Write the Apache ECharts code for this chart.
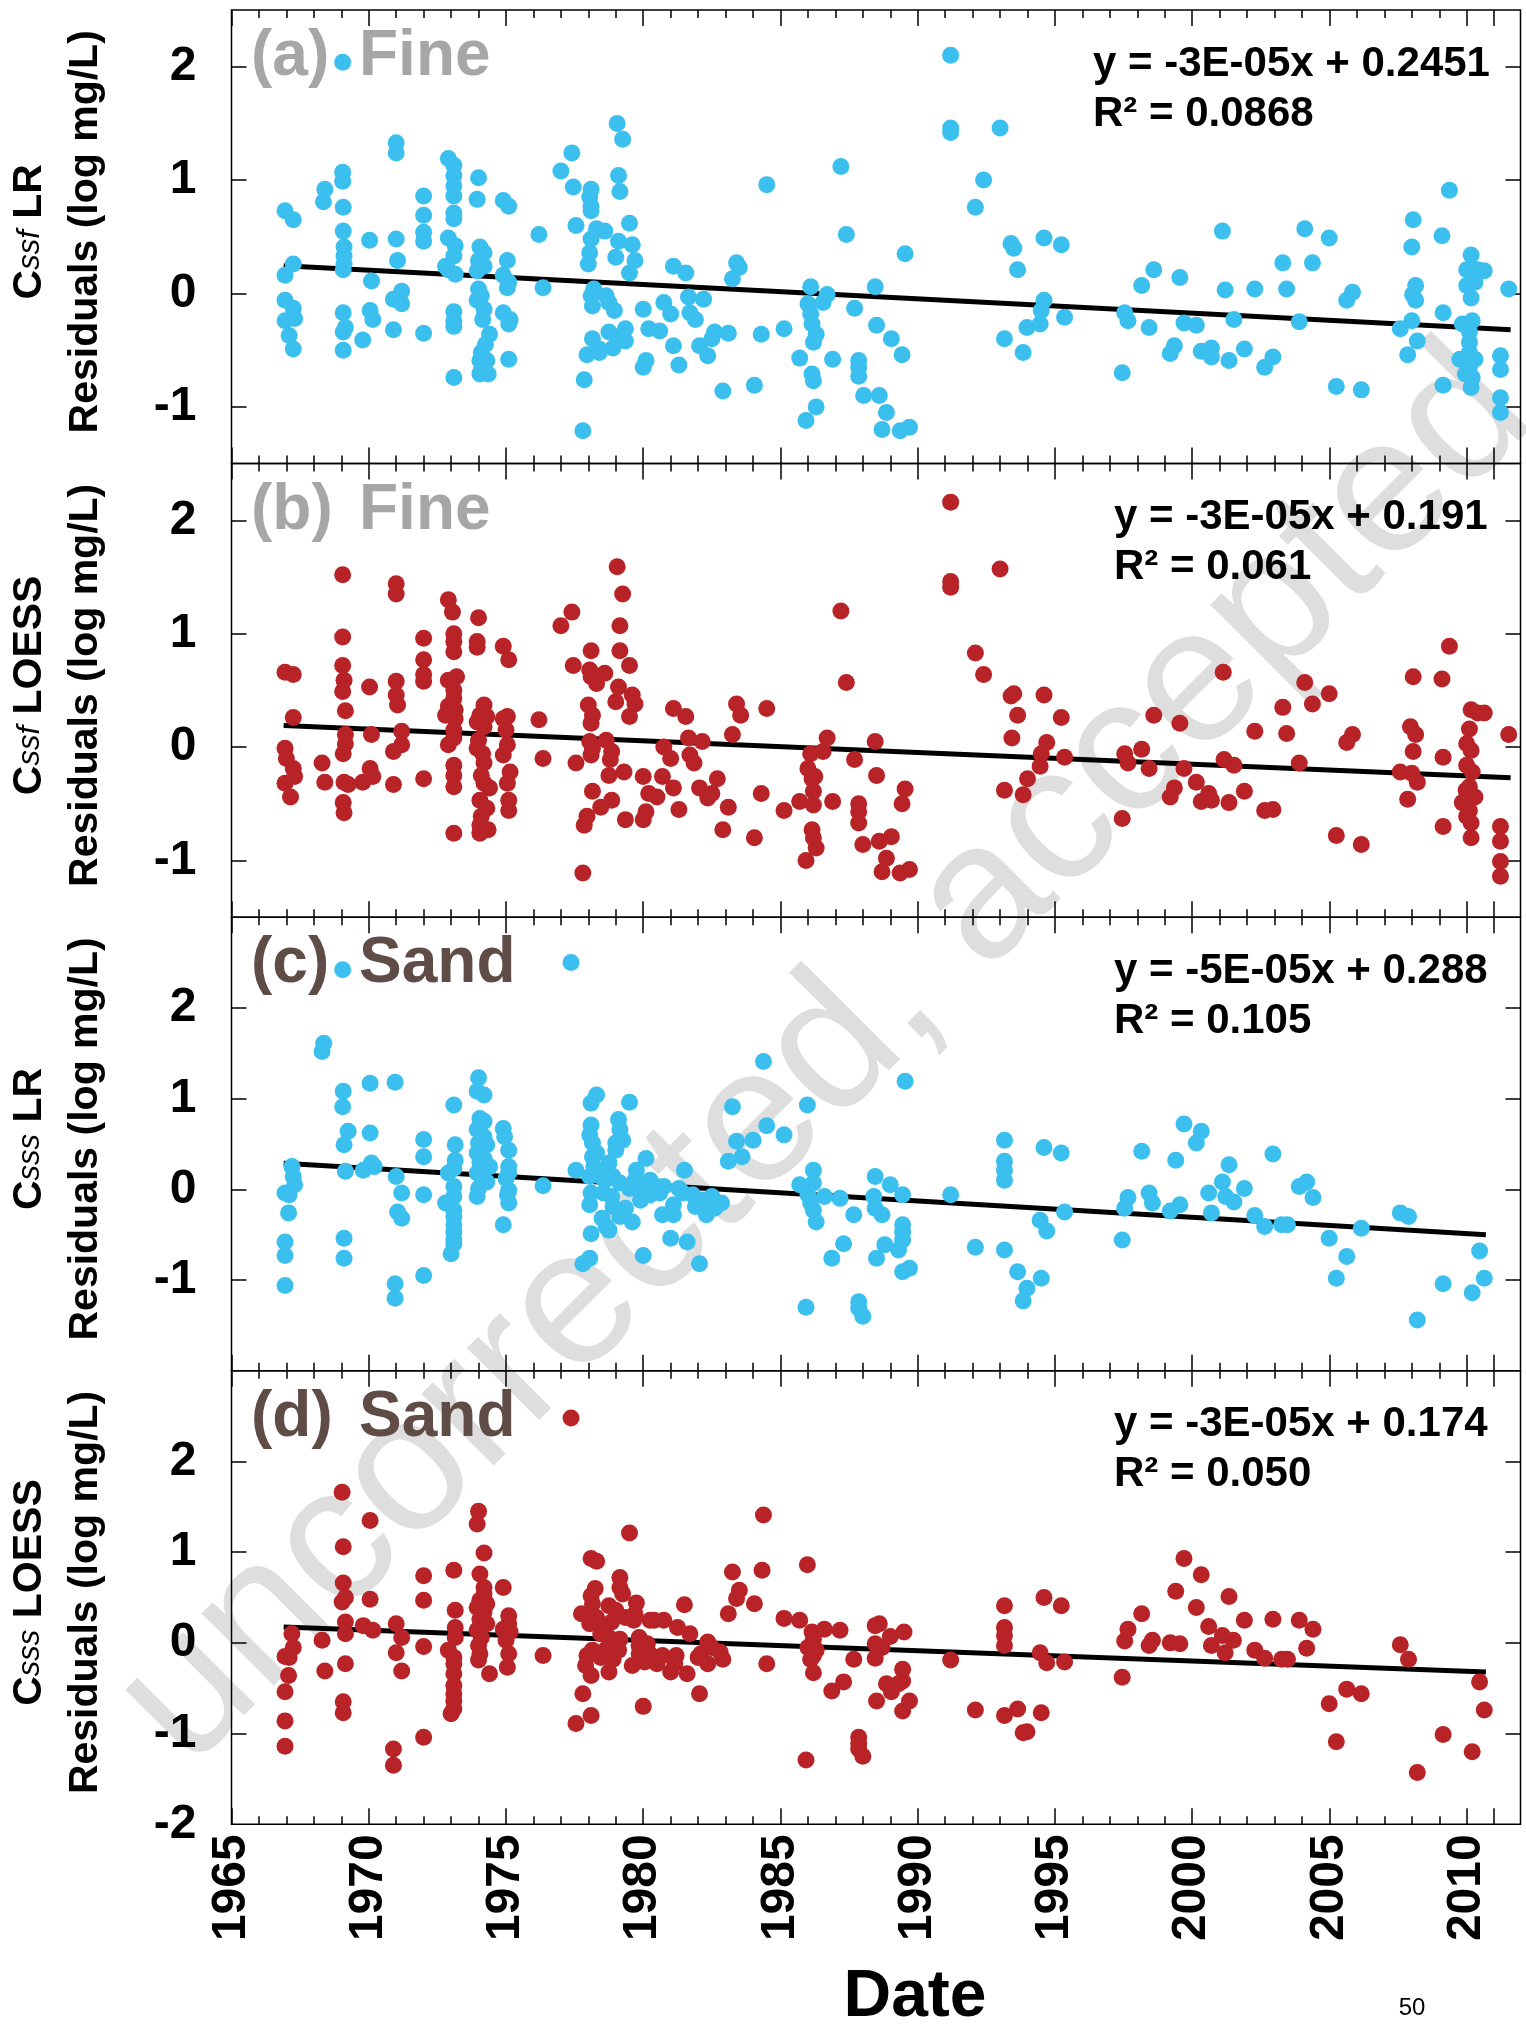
<!DOCTYPE html>
<html>
<head>
<meta charset="utf-8">
<title>Residual trends, fine and sand</title>
<script src="https://cdn.jsdelivr.net/npm/echarts@6/dist/echarts.min.js"></script>
<style>
  html, body { margin: 0; padding: 0; background: #fff; }
  #chart { width: 1526px; height: 2038px; }
</style>
</head>
<body>
<div id="chart"></div>
<script>
// ---- data: [decimal year, residual (log mg/L)] ----
const fineLR = [
  [1966.95,0.73],[1967.25,0.65],[1967.25,0.26],[1966.95,0.16],[1966.95,-0.06],[1967.25,-0.13],[1966.95,-0.24],[1967.3,-0.22],[1967.1,-0.37],[1967.25,-0.49],
  [1968.4,0.92],[1968.35,0.81],
  [1969.05,2.04],[1969.05,1.07],[1969.05,0.99],[1969.07,0.76],[1969.07,0.55],[1969.1,0.41],[1969.1,0.33],[1969.1,0.26],[1969.07,0.21],[1969.07,-0.17],[1969.15,-0.30],[1969.07,-0.34],[1969.07,-0.50],
  [1969.78,-0.41],[1970.03,0.47],[1970.1,0.11],[1970.05,-0.15],[1970.15,-0.23],
  [1971.0,0.48],[1971.05,0.29],[1971.0,1.33],[1971.0,1.24],[1970.9,-0.05],[1971.2,0.02],[1971.2,-0.09],[1970.9,-0.32],
  [1972.0,0.86],[1972.0,0.69],[1972.0,0.54],[1972.0,0.46],[1972.0,-0.35],
  [1972.9,1.19],[1973.1,1.13],[1973.1,1.04],[1973.1,0.95],[1973.1,0.86],[1973.1,0.71],[1973.1,0.66],[1972.9,0.49],[1973.15,0.42],[1973.1,0.33],[1972.8,0.24],[1973.15,0.17],[1972.9,0.21],[1973.1,-0.16],[1973.1,-0.24],[1973.1,-0.29],[1973.1,-0.74],
  [1974.0,1.02],[1973.95,0.83],[1974.05,0.41],[1974.2,0.36],[1974.0,0.29],[1974.2,0.24],[1973.95,0.20],[1974.0,0.04],[1974.1,-0.02],[1973.95,-0.06],[1974.2,-0.14],[1974.15,-0.23],[1974.4,-0.36],[1974.25,-0.45],[1974.1,-0.52],[1974.05,-0.59],[1974.3,-0.59],[1974.1,-0.67],[1974.05,-0.71],[1974.35,-0.71],
  [1974.9,0.82],[1975.1,0.77],[1975.05,0.29],[1974.9,0.16],[1975.1,0.10],[1975.05,0.05],[1974.9,-0.17],[1975.15,-0.23],[1975.1,-0.27],[1975.1,-0.58],
  [1976.2,0.52],[1976.35,0.05],
  [1977.0,1.08],[1977.4,1.24],[1977.45,0.94],[1977.55,0.60],
  [1978.1,0.92],[1978.05,0.85],[1978.1,0.77],[1978.1,0.73],[1978.3,0.57],[1978.6,0.55],[1978.1,0.48],[1978.05,0.36],[1978.0,0.26],[1978.2,0.04],[1978.1,-0.02],[1978.15,-0.11],[1978.65,-0.02],[1978.75,-0.08],[1978.95,-0.15],[1978.15,-0.40],[1978.4,-0.49],[1977.95,-0.54],[1978.4,-0.52],[1978.75,-0.34],[1978.9,-0.48],[1977.85,-0.76],[1977.8,-1.21],
  [1979.05,1.50],[1979.25,1.36],[1979.1,1.04],[1979.15,0.90],[1979.5,0.62],[1979.1,0.46],[1979.0,0.32],[1979.6,0.43],[1979.7,0.29],[1979.5,0.18],[1979.35,-0.31],[1979.35,-0.42],[1979.1,-0.39],
  [1980.0,-0.14],[1980.2,-0.31],[1980.6,-0.33],[1980.1,-0.59],[1980.0,-0.65],
  [1981.1,0.24],[1981.55,0.18],[1980.75,-0.08],[1981.0,-0.18],[1981.1,-0.46],[1981.3,-0.63],[1981.65,-0.03],[1981.7,-0.17],[1981.9,-0.23],
  [1982.2,-0.05],[1982.05,-0.46],[1982.35,-0.55],[1982.6,-0.34],[1982.5,-0.40],[1983.1,-0.35],[1982.9,-0.86],[1983.25,0.13],[1983.4,0.27],[1983.5,0.23],
  [1984.05,-0.81],[1984.3,-0.36],[1984.5,0.96],
  [1985.13,-0.31],[1985.7,-0.57],[1985.93,-1.12],[1986.0,-0.09],[1986.1,0.06],[1986.1,-0.18],[1986.15,-0.27],[1986.3,-0.36],[1986.2,-0.43],[1986.15,-0.71],[1986.2,-0.77],[1986.3,-1.0],[1986.55,-0.08],[1986.7,-0.01],[1986.9,-0.58],
  [1987.2,1.12],[1987.4,0.52],[1987.7,-0.13],[1987.85,-0.59],[1987.85,-0.65],[1987.85,-0.73],[1988.03,-0.90],[1988.45,0.06],[1988.5,-0.28],[1988.6,-0.90],[1988.86,-1.05],[1988.7,-1.2],[1989.04,-0.40],[1989.43,-0.54],[1989.54,0.35],[1989.36,-1.21],[1989.7,-1.18],
  [1991.2,2.10],[1991.2,1.46],[1991.2,1.42],[1993.0,1.46],[1992.4,1.0],[1992.1,0.76],
  [1993.16,-0.40],[1993.4,0.44],[1993.5,0.40],[1993.64,0.21],[1993.84,-0.52],[1993.98,-0.30],[1994.46,-0.27],[1994.5,-0.15],[1994.6,-0.06],[1994.6,0.49],[1995.23,0.43],[1995.35,-0.21],
  [1997.45,-0.70],[1997.54,-0.17],[1997.66,-0.24],[1998.16,0.07],[1998.43,-0.30],[1998.6,0.21],[1999.2,-0.53],[1999.35,-0.46],[1999.55,0.14],[1999.7,-0.26],
  [2000.15,-0.28],[2000.33,-0.51],[2000.7,-0.48],[2000.7,-0.56],[2001.1,0.55],[2001.2,0.03],[2001.34,-0.59],[2001.52,-0.23],[2001.9,-0.49],[2002.28,0.04],[2002.64,-0.65],[2002.94,-0.56],[2003.3,0.27],[2003.44,0.04],[2003.9,-0.25],[2004.1,0.57],[2004.38,0.27],[2004.99,0.49],
  [2005.25,-0.82],[2005.63,-0.06],[2005.84,0.01],[2006.16,-0.85],
  [2007.58,-0.31],[2007.85,-0.54],[2008.0,-0.24],[2008.2,-0.42],[2008.03,-0.01],[2008.14,0.07],[2008.14,-0.06],[2008.0,0.41],[2008.05,0.65],
  [2009.1,0.51],[2009.14,-0.17],[2009.14,-0.81],[2009.37,0.91],
  [2010.16,0.34],[2010.0,0.21],[2010.4,0.21],[2010.64,0.20],[2010.0,0.07],[2010.3,0.10],[2010.16,-0.04],[2009.84,-0.27],[2010.2,-0.24],[2010.1,-0.34],[2010.1,-0.43],[2010.1,-0.52],[2009.75,-0.58],[2010.3,-0.58],[2010.1,-0.65],[2009.95,-0.71],[2010.2,-0.74],[2010.16,-0.83],
  [2011.23,-0.55],[2011.23,-0.67],[2011.23,-0.92],[2011.23,-1.05],[2011.53,0.04]
];

const fineLOESS = [
  [1966.95,0.66],[1967.25,0.64],[1967.25,0.26],[1966.95,-0.01],[1967.0,-0.10],[1967.25,-0.19],[1967.3,-0.26],[1966.95,-0.32],[1967.15,-0.44],
  [1968.3,-0.14],[1968.4,-0.31],
  [1969.05,1.52],[1969.05,0.97],[1969.05,0.72],[1969.1,0.59],[1969.05,0.49],[1969.15,0.32],[1969.15,0.11],[1969.15,0.03],[1969.07,-0.06],[1969.1,-0.31],[1969.25,-0.33],[1969.07,-0.49],[1969.1,-0.58],
  [1970.03,0.53],[1970.1,0.11],[1970.05,-0.19],[1970.15,-0.26],[1969.78,-0.31],
  [1971.0,1.44],[1971.0,1.35],[1971.0,0.58],[1971.0,0.46],[1971.05,0.37],[1971.2,0.14],[1971.2,0.02],[1970.9,-0.04],[1970.9,-0.33],
  [1972.0,0.96],[1972.0,0.77],[1972.0,0.64],[1972.0,0.58],[1972.0,-0.28],
  [1972.9,1.30],[1973.05,1.19],[1973.1,1.00],[1973.1,0.93],[1973.1,0.84],[1973.2,0.62],[1972.9,0.59],[1973.1,0.50],[1973.1,0.43],[1972.9,0.36],[1973.15,0.33],[1972.8,0.28],[1973.15,0.25],[1973.1,0.15],[1973.1,0.08],[1972.9,0.02],[1973.1,-0.16],[1973.1,-0.25],[1973.1,-0.35],[1973.1,-0.76],
  [1974.0,1.14],[1973.95,0.93],[1973.95,0.88],[1974.2,0.37],[1974.05,0.28],[1974.3,0.27],[1973.95,0.22],[1974.2,0.18],[1974.0,0.06],[1973.95,-0.01],[1974.15,-0.06],[1974.2,-0.14],[1974.1,-0.25],[1974.2,-0.32],[1974.4,-0.36],[1974.05,-0.47],[1974.3,-0.54],[1974.1,-0.61],[1974.05,-0.69],[1974.35,-0.73],[1974.05,-0.76],
  [1974.9,0.89],[1975.1,0.77],[1975.05,0.27],[1974.9,0.25],[1975.0,0.15],[1975.05,0.02],[1974.9,-0.07],[1975.15,-0.22],[1975.05,-0.32],[1975.1,-0.47],[1975.1,-0.56],
  [1976.2,0.24],[1976.35,-0.10],
  [1977.0,1.07],[1977.4,1.19],[1977.45,0.72],[1977.55,-0.14],
  [1978.1,0.85],[1978.05,0.68],[1978.1,0.62],[1978.3,0.56],[1978.6,0.65],[1978.0,0.37],[1978.15,0.28],[1978.1,0.21],[1978.05,0.05],[1978.15,-0.01],[1978.1,-0.07],[1978.65,0.06],[1978.85,-0.04],[1978.8,-0.11],[1978.75,-0.25],[1979.3,-0.22],[1978.15,-0.39],[1978.45,-0.53],[1978.85,-0.47],[1977.95,-0.61],[1977.85,-0.69],[1977.8,-1.11],
  [1979.05,1.59],[1979.25,1.35],[1979.15,1.07],[1979.15,0.85],[1979.5,0.72],[1979.1,0.53],[1979.0,0.40],[1979.6,0.46],[1979.7,0.38],[1979.5,0.27],[1979.35,-0.64],
  [1980.0,-0.26],[1980.2,-0.41],[1980.5,-0.44],[1980.1,-0.57],[1980.0,-0.64],[1980.7,-0.26],
  [1981.1,0.34],[1981.55,0.27],[1980.75,0.0],[1981.0,-0.10],[1981.1,-0.36],[1981.3,-0.55],[1981.65,0.08],[1981.7,-0.07],[1981.85,-0.14],
  [1982.15,0.05],[1982.05,-0.36],[1982.35,-0.45],[1982.7,-0.28],[1982.5,-0.41],[1983.1,-0.53],[1982.9,-0.73],[1983.25,0.11],[1983.4,0.38],[1983.55,0.28],
  [1984.05,-0.80],[1984.3,-0.41],[1984.5,0.34],
  [1985.13,-0.56],[1985.7,-0.48],[1985.93,-1.0],[1986.0,-0.19],[1986.1,-0.06],[1986.15,-0.28],[1986.25,-0.26],[1986.2,-0.39],[1986.2,-0.51],[1986.15,-0.73],[1986.2,-0.80],[1986.3,-0.89],[1986.55,-0.04],[1986.7,0.08],[1986.9,-0.48],
  [1987.2,1.20],[1987.4,0.57],[1987.7,-0.11],[1987.85,-0.50],[1987.85,-0.57],[1987.85,-0.67],[1988.0,-0.86],[1988.45,0.05],[1988.5,-0.25],[1988.6,-0.83],[1988.7,-1.10],[1988.86,-0.98],[1989.04,-0.79],[1989.43,-0.50],[1989.54,-0.37],[1989.36,-1.11],[1989.7,-1.08],
  [1991.2,2.16],[1991.2,1.46],[1991.2,1.41],[1993.0,1.57],[1992.1,0.83],[1992.4,0.64],
  [1993.16,-0.38],[1993.4,0.45],[1993.5,0.47],[1993.64,0.28],[1993.43,0.08],[1993.84,-0.42],[1994.0,-0.28],[1994.46,-0.17],[1994.5,-0.06],[1994.7,0.04],[1994.6,0.46],[1995.23,0.26],[1995.35,-0.09],
  [1997.45,-0.63],[1997.54,-0.06],[1997.66,-0.14],[1998.16,-0.02],[1998.43,-0.19],[1998.6,0.28],[1999.2,-0.44],[1999.35,-0.36],[1999.55,0.21],[1999.7,-0.19],
  [2000.15,-0.31],[2000.33,-0.48],[2000.6,-0.41],[2000.7,-0.47],[2001.13,0.66],[2001.16,-0.11],[2001.34,-0.49],[2001.52,-0.16],[2001.9,-0.39],[2002.28,0.14],[2002.64,-0.56],[2002.94,-0.55],[2003.3,0.35],[2003.44,0.12],[2003.9,-0.14],[2004.1,0.57],[2004.38,0.38],[2004.99,0.47],
  [2005.25,-0.78],[2005.63,0.04],[2005.84,0.11],[2006.16,-0.86],
  [2007.58,-0.22],[2007.85,-0.46],[2008.0,-0.23],[2008.2,-0.31],[2008.05,0.62],[2007.95,0.18],[2008.14,0.11],[2008.05,-0.04],
  [2009.1,0.60],[2009.14,-0.09],[2009.14,-0.70],[2009.37,0.89],
  [2010.16,0.33],[2010.4,0.30],[2010.64,0.30],[2010.1,0.16],[2010.0,0.03],[2010.16,-0.03],[2010.0,-0.16],[2010.2,-0.22],[2010.1,-0.35],[2009.98,-0.38],[2010.3,-0.44],[2009.84,-0.49],[2010.1,-0.56],[2010.0,-0.61],[2010.16,-0.67],[2010.16,-0.80],
  [2011.23,-0.70],[2011.23,-0.83],[2011.23,-1.01],[2011.23,-1.14],[2011.53,0.11]
];

const sandLR = [
  [1966.95,-0.04],[1967.2,0.25],[1967.25,0.14],[1967.3,0.05],[1967.1,-0.06],[1967.08,-0.26],[1966.95,-0.58],[1966.95,-0.73],[1966.95,-1.06],
  [1968.36,1.61],[1968.3,1.52],
  [1969.05,2.42],[1969.07,1.08],[1969.05,0.91],[1969.25,0.64],[1969.1,0.49],[1969.15,0.20],[1969.1,-0.54],[1969.1,-0.76],
  [1969.8,0.21],[1970.05,1.17],[1970.05,0.62],[1970.1,0.29],[1970.2,0.25],
  [1970.96,1.18],[1971.0,0.14],[1971.2,-0.04],[1971.05,-0.25],[1971.2,-0.32],[1970.96,-1.04],[1970.96,-1.20],
  [1972.0,0.55],[1972.0,0.36],[1972.0,-0.06],[1972.0,-0.95],
  [1973.1,0.93],[1973.15,0.49],[1973.15,0.32],[1973.1,0.23],[1972.9,0.18],[1973.1,0.03],[1973.1,-0.08],[1972.8,-0.15],[1973.1,-0.23],[1973.1,-0.30],[1973.1,-0.39],[1973.1,-0.47],[1973.1,-0.56],[1973.1,-0.60],[1973.0,-0.71],
  [1974.0,1.23],[1973.95,1.08],[1974.2,1.04],[1974.05,0.78],[1974.2,0.75],[1973.95,0.66],[1974.2,0.58],[1974.0,0.51],[1974.3,0.49],[1973.95,0.40],[1974.2,0.34],[1974.05,0.29],[1974.4,0.25],[1973.95,0.18],[1974.1,0.14],[1974.3,0.08],[1974.0,0.01],[1973.95,-0.08],
  [1974.9,0.67],[1974.95,0.58],[1975.1,0.43],[1975.1,0.25],[1975.1,0.18],[1975.0,0.12],[1975.1,-0.01],[1975.05,-0.06],[1975.1,-0.15],[1974.9,-0.39],
  [1976.35,0.04],[1977.37,2.50],[1977.55,0.21],
  [1978.1,0.95],[1978.3,1.04],[1979.5,0.96],[1978.1,0.71],[1978.05,0.60],[1978.15,0.51],[1979.1,0.77],[1979.15,0.66],[1979.25,0.54],[1979.0,0.51],[1979.0,0.43],[1978.15,0.36],[1978.3,0.40],[1978.2,0.25],[1978.45,0.14],[1978.05,0.14],[1978.75,0.29],
  [1980.1,0.34],[1979.75,0.21],[1981.5,0.21],[1978.6,0.10],[1978.9,0.14],[1979.15,0.07],[1979.5,0.01],[1979.7,0.10],[1980.25,0.10],[1980.05,0.01],[1980.5,0.03],[1980.75,0.03],
  [1978.1,-0.04],[1978.55,-0.04],[1978.85,-0.08],[1979.9,-0.12],[1980.25,-0.06],[1980.6,-0.04],[1978.05,-0.17],[1978.9,-0.19],[1979.35,-0.21],
  [1981.3,0.01],[1981.45,-0.04],[1981.8,-0.06],[1982.15,-0.12],[1982.5,-0.08],[1982.85,-0.15],[1981.1,-0.17],[1981.9,-0.19],[1982.3,-0.28],[1982.6,-0.21],[1980.7,-0.28],[1981.1,-0.28],
  [1978.5,-0.32],[1979.15,-0.30],[1979.6,-0.36],[1978.65,-0.41],[1978.75,-0.45],[1978.1,-0.49],[1981.0,-0.54],[1981.6,-0.58],[1980.0,-0.73],[1978.05,-0.76],[1977.8,-0.82],[1982.05,-0.82],
  [1983.25,0.91],[1983.4,0.53],[1983.6,0.36],[1984.0,0.54],[1983.1,0.31],
  [1984.38,1.41],[1984.5,0.70],[1985.13,0.60],[1985.98,0.93],[1989.54,1.19],
  [1985.7,0.05],[1986.2,0.21],[1986.2,0.07],[1986.0,-0.06],[1986.1,-0.15],[1986.2,-0.23],[1986.3,-0.36],[1986.6,-0.08],[1987.17,-0.10],[1987.67,-0.28],[1987.3,-0.60],[1986.87,-0.76],
  [1985.93,-1.30],[1987.85,-1.24],[1987.85,-1.31],[1988.0,-1.40],
  [1988.45,0.14],[1988.4,-0.08],[1988.45,-0.21],[1988.7,-0.28],[1989.0,0.05],[1989.45,-0.06],[1989.45,-0.39],[1989.45,-0.47],[1989.45,-0.56],[1989.3,-0.67],[1988.8,-0.61],[1988.5,-0.76],[1989.45,-0.91],[1989.7,-0.87],
  [1991.2,-0.06],[1992.1,-0.64],
  [1993.16,0.54],[1993.16,0.31],[1993.16,0.21],[1993.16,0.10],[1993.16,-0.67],[1993.64,-0.91],[1993.98,-1.09],[1993.84,-1.23],[1994.5,-0.98],[1994.46,-0.34],[1994.7,-0.46],[1994.6,0.46],[1995.23,0.40],[1995.35,-0.25],
  [1997.45,-0.56],[1997.54,-0.21],[1997.66,-0.09],[1998.16,0.42],[1998.43,-0.04],[1998.55,-0.15],[1999.2,-0.24],[1999.4,0.32],[1999.55,-0.17],[1999.7,0.72],
  [2000.15,0.51],[2000.33,0.64],[2000.6,-0.04],[2000.7,-0.26],[2001.1,0.08],[2001.22,-0.08],[2001.34,0.27],[2001.52,-0.14],[2001.9,0.01],[2002.28,-0.29],[2002.64,-0.41],[2002.94,0.39],[2003.26,-0.39],[2003.47,-0.39],[2003.9,0.03],[2004.17,0.08],[2004.4,-0.09],
  [2004.99,-0.54],[2005.25,-0.98],[2005.63,-0.74],[2006.16,-0.43],
  [2007.58,-0.26],[2007.88,-0.30],[2008.2,-1.44],[2009.14,-1.04],[2010.2,-1.14],[2010.64,-0.98],[2010.47,-0.68]
];

const sandLOESS = [
  [1967.2,0.10],[1967.25,-0.05],[1967.1,-0.16],[1966.95,-0.15],[1967.08,-0.36],[1966.95,-0.54],[1966.95,-0.86],[1966.95,-1.14],
  [1968.3,0.03],[1968.4,-0.31],
  [1969.03,1.66],[1969.07,1.06],[1969.07,0.66],[1969.15,0.50],[1969.03,0.45],[1969.15,0.23],[1969.15,0.10],[1969.15,-0.23],[1969.07,-0.65],[1969.07,-0.77],
  [1970.05,1.35],[1970.05,0.48],[1969.8,0.19],[1970.15,0.14],
  [1971.0,0.21],[1971.2,0.06],[1971.0,-0.11],[1971.2,-0.31],[1970.9,-1.17],[1970.9,-1.35],
  [1972.0,0.74],[1972.0,0.47],[1972.0,-0.04],[1972.0,-1.04],
  [1973.1,0.80],[1973.15,0.36],[1973.15,0.17],[1973.15,0.06],[1972.9,-0.08],[1973.1,-0.16],[1973.1,-0.23],[1973.1,-0.34],[1973.1,-0.47],[1973.1,-0.56],[1973.1,-0.64],[1973.1,-0.73],[1973.0,-0.78],
  [1974.0,1.45],[1973.95,1.31],[1974.2,0.99],[1974.05,0.76],[1974.2,0.61],[1974.2,0.54],[1974.05,0.47],[1974.3,0.43],[1973.95,0.39],[1974.2,0.34],[1974.05,0.26],[1974.3,0.21],[1973.95,0.14],[1974.1,0.06],[1974.0,-0.03],[1974.05,-0.12],[1974.0,-0.19],[1974.4,-0.34],
  [1974.9,0.61],[1975.1,0.30],[1975.1,0.21],[1974.9,0.15],[1975.15,0.12],[1975.0,0.03],[1975.1,-0.12],[1975.05,-0.27],
  [1976.35,-0.14],[1977.37,2.48],
  [1979.5,1.21],[1978.1,0.93],[1978.3,0.90],[1979.15,0.72],[1979.15,0.61],[1978.25,0.60],[1978.1,0.52],[1978.15,0.43],[1978.05,0.32],[1978.75,0.41],[1979.0,0.36],[1979.25,0.54],[1979.75,0.44],[1981.5,0.42],[1977.75,0.32],
  [1978.45,0.21],[1978.3,0.28],[1978.05,0.21],[1978.85,0.23],[1979.35,0.28],[1979.65,0.25],[1980.25,0.25],[1980.4,0.25],[1980.75,0.25],[1979.7,0.32],
  [1978.45,0.10],[1978.75,0.06],[1979.15,0.04],[1979.85,0.06],[1981.25,0.17],[1981.7,0.10],[1980.15,-0.01],
  [1978.15,-0.08],[1978.65,-0.07],[1979.1,-0.08],[1979.85,-0.03],[1980.1,-0.08],[1982.35,0.01],[1982.5,-0.05],[1982.8,-0.10],[1982.1,-0.12],
  [1977.95,-0.14],[1978.45,-0.16],[1978.9,-0.18],[1979.85,-0.12],[1980.3,-0.14],[1980.7,-0.14],[1981.2,-0.14],[1982.0,-0.16],[1982.9,-0.18],
  [1977.9,-0.25],[1979.6,-0.25],[1980.05,-0.21],[1980.5,-0.23],[1981.15,-0.23],[1982.35,-0.23],[1978.1,-0.36],[1978.75,-0.32],[1981.0,-0.32],[1981.6,-0.34],
  [1980.0,-0.70],[1982.05,-0.56],[1977.8,-0.56],[1978.1,-0.80],[1977.55,-0.89],
  [1983.25,0.78],[1983.5,0.58],[1983.4,0.49],[1984.05,0.43],[1983.1,0.32],
  [1984.38,1.41],[1984.33,0.80],[1985.13,0.27],[1985.7,0.25],[1985.98,0.86],[1984.5,-0.23],
  [1986.15,0.12],[1986.2,0.04],[1986.6,0.15],[1987.17,0.14],[1986.0,-0.05],[1986.2,-0.14],[1986.1,-0.18],[1986.3,-0.08],[1986.2,-0.33],[1986.87,-0.53],[1987.3,-0.43],[1987.67,-0.18],
  [1985.93,-1.29],[1987.85,-1.04],[1987.85,-1.11],[1987.85,-1.17],[1988.0,-1.25],
  [1988.45,0.19],[1988.6,0.21],[1988.45,-0.01],[1988.7,-0.05],[1988.45,-0.17],[1989.0,0.07],[1989.5,0.12],[1989.45,-0.29],[1989.45,-0.42],[1989.3,-0.45],[1988.86,-0.45],[1989.04,-0.54],[1988.5,-0.64],[1989.45,-0.75],[1989.7,-0.64],
  [1991.2,-0.19],[1992.1,-0.74],
  [1993.16,0.41],[1993.16,0.17],[1993.16,0.08],[1993.16,-0.03],[1993.16,-0.80],[1993.64,-0.73],[1993.84,-0.99],[1993.98,-0.98],[1994.5,-0.77],[1994.46,-0.11],[1994.7,-0.22],[1994.6,0.50],[1995.23,0.41],[1995.35,-0.21],
  [1997.45,-0.38],[1997.54,0.02],[1997.66,0.15],[1998.16,0.32],[1998.43,-0.03],[1998.55,0.03],[1999.2,0.0],[1999.55,-0.01],[1999.4,0.57],[1999.7,0.93],
  [2000.15,0.39],[2000.33,0.75],[2000.6,0.18],[2000.7,-0.03],[2001.1,0.08],[2001.2,-0.11],[2001.5,0.03],[2001.34,0.51],[2001.9,0.25],[2002.28,-0.08],[2002.64,-0.17],[2002.94,0.26],[2003.26,-0.18],[2003.47,-0.18],[2003.9,0.25],[2004.17,-0.06],[2004.4,0.15],
  [2004.99,-0.67],[2005.25,-1.09],[2005.63,-0.51],[2006.16,-0.56],
  [2007.58,-0.02],[2007.88,-0.18],[2008.2,-1.43],[2009.14,-1.01],[2010.2,-1.20],[2010.47,-0.43],[2010.64,-0.74]
];

// fitted trend lines: [start, end]
const trendFineLR = [[1966.9, 0.2451], [2011.6, -0.32]];
const trendFineLOESS = [[1966.9, 0.191], [2011.6, -0.27]];
const trendSandLR = [[1966.9, 0.288], [2010.7, -0.50]];
const trendSandLOESS = [[1966.9, 0.174], [2010.7, -0.32]];

// fit annotations
const eqFineLR = ['y = -3E-05x + 0.2451', 'R\u00b2 = 0.0868'];
const eqFineLOESS = ['y = -3E-05x + 0.191', 'R\u00b2 = 0.061'];
const eqSandLR = ['y = -5E-05x + 0.288', 'R\u00b2 = 0.105'];
const eqSandLOESS = ['y = -3E-05x + 0.174', 'R\u00b2 = 0.050'];

// axis ticks and labels
const yearLabels = [1965, 1970, 1975, 1980, 1985, 1990, 1995, 2000, 2005, 2010];
const majorTickYears = [1965, 1970, 1975, 1980, 1985, 1990, 1995, 2000, 2005, 2010, 2011];
const minorTickYears = [1965,1966,1967,1968,1969,1970,1971,1972,1973,1974,1975,1976,1977,1978,1979,1980,1981,1982,1983,1984,1985,1986,1987,1988,1989,1990,1991,1992,1993,1994,1995,1996,1997,1998,1999,2000,2001,2002,2003,2004,2005,2006,2007,2008,2009,2010,2011];
const yTicks = [-1, 0, 1, 2];
const yLabelsFine = [-1, 0, 1, 2];
const yLabelsSandLR = [-1, 0, 1, 2];
const yLabelsSandLOESS = [-2, -1, 0, 1, 2];

// ---- layout ----
const FONT = '"Liberation Sans", Arial, Helvetica, sans-serif';
const BLUE = '#3bbfef';
const RED = '#b82327';
const GREY = '#a6a6a6';
const BROWN = '#5f4c46';

const plotLeft = 231.5, plotRight = 1520.5;
const panelTop0 = 10, panelH = 453.575;

const panels = [
  { data: fineLR, trend: trendFineLR, eq: eqFineLR, eqX: 1093, color: BLUE, ymin: -1.5, ymax: 2.5,
    labels: yLabelsFine, tagA: '(a)', tagB: 'Fine', tagColor: GREY, sub: 'ssf', method: ' LR' },
  { data: fineLOESS, trend: trendFineLOESS, eq: eqFineLOESS, eqX: 1114, color: RED, ymin: -1.5, ymax: 2.5,
    labels: yLabelsFine, tagA: '(b)', tagB: 'Fine', tagColor: GREY, sub: 'ssf', method: ' LOESS' },
  { data: sandLR, trend: trendSandLR, eq: eqSandLR, eqX: 1114, color: BLUE, ymin: -2, ymax: 3,
    labels: yLabelsSandLR, tagA: '(c)', tagB: 'Sand', tagColor: BROWN, sub: 'sss', method: ' LR' },
  { data: sandLOESS, trend: trendSandLOESS, eq: eqSandLOESS, eqX: 1114, color: RED, ymin: -2, ymax: 3,
    labels: yLabelsSandLOESS, tagA: '(d)', tagB: 'Sand', tagColor: BROWN, sub: 'sss', method: ' LOESS' }
];

const grid = [], xAxis = [], yAxis = [], series = [], graphic = [];

// diagonal watermark behind the data
graphic.push({
  type: 'text', x: 826, y: 1058, rotation: Math.PI / 4, z: 1, silent: true,
  style: { text: 'uncorrected, accepted', font: '193px ' + FONT, fill: '#dedede', align: 'center', verticalAlign: 'middle' }
});

const tickStyle = { color: '#000', width: 1.5 };

panels.forEach((p, i) => {
  const top = panelTop0 + panelH * i;
  grid.push({ left: plotLeft, width: plotRight - plotLeft, top: top, height: panelH,
    show: true, borderColor: '#000', borderWidth: 1.5, backgroundColor: 'transparent', z: 2 });

  const xBase = { type: 'value', gridIndex: i, min: 1965, max: 2011.96, z: 3,
    axisLine: { show: false, onZero: false }, splitLine: { show: false } };
  const isLast = i === panels.length - 1;
  // bottom edge: long ticks every 5 years (year labels on the last panel), short yearly ticks
  xAxis.push(Object.assign({}, xBase, { position: 'bottom',
    axisTick: { inside: true, length: 16, customValues: majorTickYears, lineStyle: tickStyle },
    axisLabel: { show: isLast, customValues: yearLabels, rotate: 90, margin: 10,
      formatter: v => String(v),
      fontFamily: FONT, fontSize: 48, fontWeight: 'bold', color: '#000' } }));
  xAxis.push(Object.assign({}, xBase, { position: 'bottom',
    axisTick: { inside: true, length: 8, customValues: minorTickYears, lineStyle: tickStyle },
    axisLabel: { show: false } }));
  // top edge
  xAxis.push(Object.assign({}, xBase, { position: 'top',
    axisTick: { inside: true, length: 16, customValues: majorTickYears, lineStyle: tickStyle },
    axisLabel: { show: false } }));
  xAxis.push(Object.assign({}, xBase, { position: 'top',
    axisTick: { inside: true, length: 8, customValues: minorTickYears, lineStyle: tickStyle },
    axisLabel: { show: false } }));

  const yBase = { type: 'value', gridIndex: i, min: p.ymin, max: p.ymax, z: 3,
    axisLine: { show: false, onZero: false }, splitLine: { show: false } };
  yAxis.push(Object.assign({}, yBase, { position: 'left',
    axisTick: { inside: true, length: 15, customValues: yTicks, lineStyle: tickStyle },
    axisLabel: { customValues: p.labels, margin: 35, padding: [0, 0, 27, 0],
      fontFamily: FONT, fontSize: 48, fontWeight: 'bold', color: '#000' } }));
  yAxis.push(Object.assign({}, yBase, { position: 'right',
    axisTick: { inside: true, length: 15, customValues: yTicks, lineStyle: tickStyle },
    axisLabel: { show: false } }));

  series.push({ type: 'line', xAxisIndex: i * 4, yAxisIndex: i * 2, data: p.trend,
    symbol: 'none', lineStyle: { color: '#000', width: 5 }, z: 4, silent: true });
  series.push({ type: 'scatter', xAxisIndex: i * 4, yAxisIndex: i * 2, data: p.data,
    symbolSize: 17, itemStyle: { color: p.color, opacity: 1 }, z: 5, silent: true });

  // panel tag, e.g. "(a)" and "Fine"
  graphic.push({ type: 'text', x: 251, y: top + 47.5, z: 6, silent: true,
    style: { text: p.tagA, font: 'bold 64px ' + FONT, fill: p.tagColor, align: 'left', verticalAlign: 'middle' } });
  graphic.push({ type: 'text', x: 359, y: top + 47.5, z: 6, silent: true,
    style: { text: p.tagB, font: 'bold 64px ' + FONT, fill: p.tagColor, align: 'left', verticalAlign: 'middle' } });
  // fit equation
  graphic.push({ type: 'text', x: p.eqX, y: top + 54, z: 6, silent: true,
    style: { text: p.eq[0], font: 'bold 42px ' + FONT, fill: '#000', align: 'left', verticalAlign: 'middle' } });
  graphic.push({ type: 'text', x: p.eqX, y: top + 104, z: 6, silent: true,
    style: { text: p.eq[1], font: 'bold 42px ' + FONT, fill: '#000', align: 'left', verticalAlign: 'middle' } });

  // two-line rotated y title
  const cy = top + panelH / 2 - 5;
  graphic.push({ type: 'text', x: 30, y: cy, rotation: Math.PI / 2, z: 6, silent: true,
    style: { text: '{c|C}{s|' + p.sub + '}{c|' + p.method + '}', align: 'center', verticalAlign: 'middle',
      rich: {
        c: { font: 'bold 41px ' + FONT, fill: '#000' },
        s: { font: 'italic 31px ' + FONT, fill: '#000' }
      } } });
  graphic.push({ type: 'text', x: 86, y: cy, rotation: Math.PI / 2, z: 6, silent: true,
    style: { text: 'Residuals (log mg/L)', font: 'bold 41px ' + FONT, fill: '#000', align: 'center', verticalAlign: 'middle' } });
});

// x title and page number
graphic.push({ type: 'text', x: 915, y: 1998, z: 6, silent: true,
  style: { text: 'Date', font: 'bold 66px ' + FONT, fill: '#000', align: 'center', verticalAlign: 'middle' } });
graphic.push({ type: 'text', x: 1412, y: 2008, z: 6, silent: true,
  style: { text: '50', font: '24px ' + FONT, fill: '#000', align: 'center', verticalAlign: 'middle' } });

const chart = echarts.init(document.getElementById('chart'), null, { renderer: 'canvas' });
chart.setOption({
  animation: false,
  backgroundColor: '#fff',
  grid: grid,
  xAxis: xAxis,
  yAxis: yAxis,
  series: series,
  graphic: graphic
});
</script>
</body>
</html>
